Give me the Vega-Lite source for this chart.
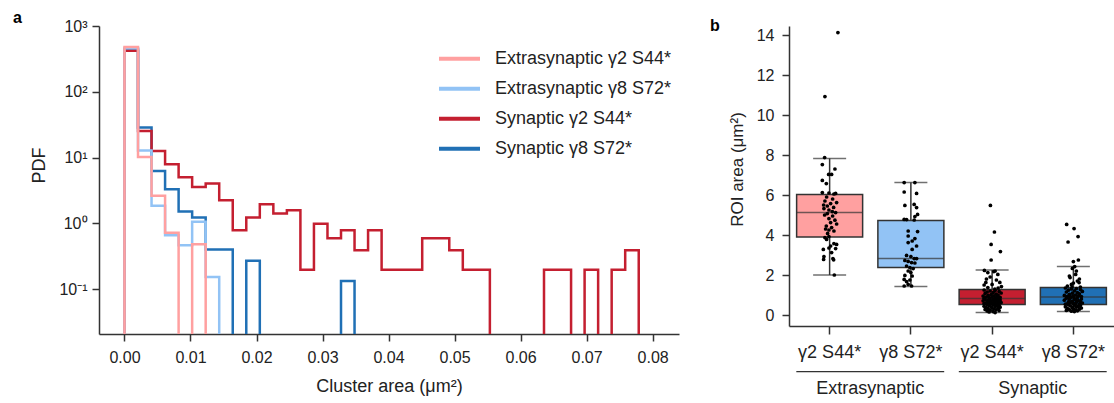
{
  "$schema": "https://vega.github.io/schema/vega-lite/v6.json",
  "background": "white",
  "padding": {"left": 13, "top": 10, "right": 0, "bottom": 0},
  "bounds": "flush",
  "spacing": 110,
  "config": {
    "font": "Liberation Sans",
    "view": {"stroke": null},
    "axis": {"domainColor": "#333", "tickColor": "#333", "labelColor": "#222", "titleColor": "#222", "grid": false, "titleFontWeight": "normal", "domainWidth": 1.5, "tickWidth": 1.5, "tickSize": 7, "labelFontSize": 16, "titleFontSize": 18}
  },
  "datasets": {
    "hist": [
      {"s": "Synaptic γ8 S72*", "i": 0, "x": 0, "p": 0.001},
      {"s": "Synaptic γ8 S72*", "i": 1, "x": 0, "p": 447},
      {"s": "Synaptic γ8 S72*", "i": 2, "x": 0.00205, "p": 28.6},
      {"s": "Synaptic γ8 S72*", "i": 3, "x": 0.0041, "p": 6.26},
      {"s": "Synaptic γ8 S72*", "i": 4, "x": 0.00615, "p": 3.3},
      {"s": "Synaptic γ8 S72*", "i": 5, "x": 0.0082, "p": 1.51},
      {"s": "Synaptic γ8 S72*", "i": 6, "x": 0.01025, "p": 1.22},
      {"s": "Synaptic γ8 S72*", "i": 7, "x": 0.0123, "p": 0.4},
      {"s": "Synaptic γ8 S72*", "i": 8, "x": 0.01435, "p": 0.4},
      {"s": "Synaptic γ8 S72*", "i": 9, "x": 0.0164, "p": 0.001},
      {"s": "Synaptic γ8 S72*", "i": 10, "x": 0.01845, "p": 0.27},
      {"s": "Synaptic γ8 S72*", "i": 11, "x": 0.0205, "p": 0.001},
      {"s": "Synaptic γ8 S72*", "i": 12, "x": 0.02255, "p": 0.001},
      {"s": "Synaptic γ8 S72*", "i": 13, "x": 0.0246, "p": 0.001},
      {"s": "Synaptic γ8 S72*", "i": 14, "x": 0.02665, "p": 0.001},
      {"s": "Synaptic γ8 S72*", "i": 15, "x": 0.0287, "p": 0.001},
      {"s": "Synaptic γ8 S72*", "i": 16, "x": 0.03075, "p": 0.001},
      {"s": "Synaptic γ8 S72*", "i": 17, "x": 0.0328, "p": 0.133},
      {"s": "Synaptic γ8 S72*", "i": 18, "x": 0.03485, "p": 0.001},

      {"s": "Synaptic γ2 S44*", "i": 0, "x": 0, "p": 0.001},
      {"s": "Synaptic γ2 S44*", "i": 1, "x": 0, "p": 420},
      {"s": "Synaptic γ2 S44*", "i": 2, "x": 0.00205, "p": 25.4},
      {"s": "Synaptic γ2 S44*", "i": 3, "x": 0.0041, "p": 12.6},
      {"s": "Synaptic γ2 S44*", "i": 4, "x": 0.00615, "p": 7.9},
      {"s": "Synaptic γ2 S44*", "i": 5, "x": 0.0082, "p": 5.0},
      {"s": "Synaptic γ2 S44*", "i": 6, "x": 0.01025, "p": 3.55},
      {"s": "Synaptic γ2 S44*", "i": 7, "x": 0.0123, "p": 4.03},
      {"s": "Synaptic γ2 S44*", "i": 8, "x": 0.01435, "p": 2.24},
      {"s": "Synaptic γ2 S44*", "i": 9, "x": 0.0164, "p": 0.785},
      {"s": "Synaptic γ2 S44*", "i": 10, "x": 0.01845, "p": 1.22},
      {"s": "Synaptic γ2 S44*", "i": 11, "x": 0.0205, "p": 1.95},
      {"s": "Synaptic γ2 S44*", "i": 12, "x": 0.02255, "p": 1.41},
      {"s": "Synaptic γ2 S44*", "i": 13, "x": 0.0246, "p": 1.58},
      {"s": "Synaptic γ2 S44*", "i": 14, "x": 0.02665, "p": 0.196},
      {"s": "Synaptic γ2 S44*", "i": 15, "x": 0.0287, "p": 0.98},
      {"s": "Synaptic γ2 S44*", "i": 16, "x": 0.03075, "p": 0.59},
      {"s": "Synaptic γ2 S44*", "i": 17, "x": 0.0328, "p": 0.785},
      {"s": "Synaptic γ2 S44*", "i": 18, "x": 0.03485, "p": 0.39},
      {"s": "Synaptic γ2 S44*", "i": 19, "x": 0.0369, "p": 0.785},
      {"s": "Synaptic γ2 S44*", "i": 20, "x": 0.03895, "p": 0.196},
      {"s": "Synaptic γ2 S44*", "i": 21, "x": 0.041, "p": 0.196},
      {"s": "Synaptic γ2 S44*", "i": 22, "x": 0.04305, "p": 0.196},
      {"s": "Synaptic γ2 S44*", "i": 23, "x": 0.0451, "p": 0.59},
      {"s": "Synaptic γ2 S44*", "i": 24, "x": 0.04715, "p": 0.59},
      {"s": "Synaptic γ2 S44*", "i": 25, "x": 0.0492, "p": 0.39},
      {"s": "Synaptic γ2 S44*", "i": 26, "x": 0.05125, "p": 0.196},
      {"s": "Synaptic γ2 S44*", "i": 27, "x": 0.0533, "p": 0.196},
      {"s": "Synaptic γ2 S44*", "i": 28, "x": 0.05535, "p": 0.001},
      {"s": "Synaptic γ2 S44*", "i": 29, "x": 0.0574, "p": 0.001},
      {"s": "Synaptic γ2 S44*", "i": 30, "x": 0.05945, "p": 0.001},
      {"s": "Synaptic γ2 S44*", "i": 31, "x": 0.0615, "p": 0.001},
      {"s": "Synaptic γ2 S44*", "i": 32, "x": 0.06355, "p": 0.196},
      {"s": "Synaptic γ2 S44*", "i": 33, "x": 0.0656, "p": 0.196},
      {"s": "Synaptic γ2 S44*", "i": 34, "x": 0.06765, "p": 0.001},
      {"s": "Synaptic γ2 S44*", "i": 35, "x": 0.0697, "p": 0.196},
      {"s": "Synaptic γ2 S44*", "i": 36, "x": 0.07175, "p": 0.001},
      {"s": "Synaptic γ2 S44*", "i": 37, "x": 0.0738, "p": 0.196},
      {"s": "Synaptic γ2 S44*", "i": 38, "x": 0.07585, "p": 0.39},
      {"s": "Synaptic γ2 S44*", "i": 39, "x": 0.0779, "p": 0.001},

      {"s": "Extrasynaptic γ8 S72*", "i": 0, "x": 0, "p": 0.001},
      {"s": "Extrasynaptic γ8 S72*", "i": 1, "x": 0, "p": 460},
      {"s": "Extrasynaptic γ8 S72*", "i": 2, "x": 0.00205, "p": 12.8},
      {"s": "Extrasynaptic γ8 S72*", "i": 3, "x": 0.0041, "p": 1.84},
      {"s": "Extrasynaptic γ8 S72*", "i": 4, "x": 0.00615, "p": 0.66},
      {"s": "Extrasynaptic γ8 S72*", "i": 5, "x": 0.0082, "p": 0.465},
      {"s": "Extrasynaptic γ8 S72*", "i": 6, "x": 0.01025, "p": 1.05},
      {"s": "Extrasynaptic γ8 S72*", "i": 7, "x": 0.0123, "p": 0.153},
      {"s": "Extrasynaptic γ8 S72*", "i": 8, "x": 0.01435, "p": 0.001},

      {"s": "Extrasynaptic γ2 S44*", "i": 0, "x": 0, "p": 0.001},
      {"s": "Extrasynaptic γ2 S44*", "i": 1, "x": 0, "p": 480},
      {"s": "Extrasynaptic γ2 S44*", "i": 2, "x": 0.00205, "p": 10.2},
      {"s": "Extrasynaptic γ2 S44*", "i": 3, "x": 0.0041, "p": 2.61},
      {"s": "Extrasynaptic γ2 S44*", "i": 4, "x": 0.00615, "p": 0.72},
      {"s": "Extrasynaptic γ2 S44*", "i": 5, "x": 0.0082, "p": 0.001},
      {"s": "Extrasynaptic γ2 S44*", "i": 6, "x": 0.01025, "p": 0.48},
      {"s": "Extrasynaptic γ2 S44*", "i": 7, "x": 0.0123, "p": 0.001}
    ],
    "box": [
      {"g": "E2", "lo": 2.0, "q1": 3.9, "med": 5.12, "q3": 6.03, "hi": 7.83},
      {"g": "E8", "lo": 1.42, "q1": 2.37, "med": 2.82, "q3": 4.73, "hi": 6.62},
      {"g": "S2", "lo": 0.12, "q1": 0.52, "med": 0.82, "q3": 1.28, "hi": 2.25},
      {"g": "S8", "lo": 0.17, "q1": 0.52, "med": 0.9, "q3": 1.37, "hi": 2.42}
    ],
    "groups": [
      {"grp": "Extrasynaptic", "a": "E2", "b": "E8"},
      {"grp": "Synaptic", "a": "S2", "b": "S8"}
    ],
    "pts": [
      {"g":"E2","j":8.3,"v":14.12},{"g":"E2","j":-4.7,"v":10.92},{"g":"E2","j":-5,"v":7.87},{"g":"E2","j":-7.3,"v":7.52},{"g":"E2","j":5.3,"v":7.3},{"g":"E2","j":-1,"v":7.03},{"g":"E2","j":2,"v":7.03},{"g":"E2","j":-7.3,"v":6.73},{"g":"E2","j":-3.3,"v":6.57},{"g":"E2","j":-7.3,"v":6.12},{"g":"E2","j":-0.7,"v":6.1},{"g":"E2","j":4.3,"v":6.05},{"g":"E2","j":6,"v":6.08},
      {"g":"E2","j":-3,"v":5.9},{"g":"E2","j":3,"v":5.8},{"g":"E2","j":-4.7,"v":5.7},{"g":"E2","j":7,"v":5.62},{"g":"E2","j":1,"v":5.57},{"g":"E2","j":-6,"v":5.5},{"g":"E2","j":-2.3,"v":5.45},{"g":"E2","j":4,"v":5.38},{"g":"E2","j":-5.7,"v":5.32},{"g":"E2","j":-0.7,"v":5.25},{"g":"E2","j":2.7,"v":5.17},{"g":"E2","j":6,"v":5.12},{"g":"E2","j":-2.3,"v":5.07},
      {"g":"E2","j":-5,"v":5.0},{"g":"E2","j":3,"v":4.95},{"g":"E2","j":-0.7,"v":4.82},{"g":"E2","j":5.3,"v":4.74},{"g":"E2","j":1,"v":4.62},{"g":"E2","j":7,"v":4.55},{"g":"E2","j":-3.3,"v":4.45},{"g":"E2","j":2,"v":4.37},{"g":"E2","j":-4,"v":4.3},{"g":"E2","j":-0.7,"v":4.25},{"g":"E2","j":4.3,"v":4.2},{"g":"E2","j":-2,"v":4.08},{"g":"E2","j":-0.7,"v":3.92},
      {"g":"E2","j":-4.7,"v":3.87},{"g":"E2","j":-3,"v":3.78},{"g":"E2","j":4.3,"v":3.57},{"g":"E2","j":7,"v":3.53},{"g":"E2","j":1,"v":3.45},{"g":"E2","j":-0.7,"v":3.35},{"g":"E2","j":6,"v":3.32},{"g":"E2","j":-6.3,"v":3.28},{"g":"E2","j":2,"v":3.12},{"g":"E2","j":-5.7,"v":2.92},{"g":"E2","j":3.3,"v":2.82},{"g":"E2","j":-6,"v":2.78},{"g":"E2","j":4,"v":2.76},{"g":"E2","j":4.7,"v":2.0},

      {"g":"E8","j":-6.7,"v":6.62},{"g":"E8","j":4,"v":6.62},{"g":"E8","j":-6.7,"v":6.15},{"g":"E8","j":5.7,"v":6.08},{"g":"E8","j":-6,"v":5.48},{"g":"E8","j":3.3,"v":5.53},{"g":"E8","j":5.7,"v":5.37},{"g":"E8","j":6.7,"v":5.03},{"g":"E8","j":4,"v":4.92},{"g":"E8","j":-6.7,"v":4.78},{"g":"E8","j":-4.3,"v":4.77},{"g":"E8","j":3.3,"v":4.75},
      {"g":"E8","j":-2.7,"v":4.2},{"g":"E8","j":6.7,"v":4.17},{"g":"E8","j":-2.7,"v":3.95},{"g":"E8","j":4,"v":3.82},{"g":"E8","j":1.3,"v":3.7},{"g":"E8","j":-2.7,"v":3.62},{"g":"E8","j":5.7,"v":3.45},{"g":"E8","j":1.3,"v":3.28},{"g":"E8","j":-4.3,"v":2.98},{"g":"E8","j":0,"v":2.92},{"g":"E8","j":3.3,"v":2.82},{"g":"E8","j":5.7,"v":2.82},
      {"g":"E8","j":-6,"v":2.73},{"g":"E8","j":-2.7,"v":2.68},{"g":"E8","j":0.7,"v":2.62},{"g":"E8","j":4,"v":2.6},{"g":"E8","j":-4.3,"v":2.45},{"g":"E8","j":-1,"v":2.37},{"g":"E8","j":2.3,"v":2.32},{"g":"E8","j":-2.7,"v":2.2},{"g":"E8","j":0,"v":2.12},{"g":"E8","j":-6,"v":1.98},{"g":"E8","j":1.3,"v":1.95},{"g":"E8","j":-6.7,"v":1.78},{"g":"E8","j":-1,"v":1.75},{"g":"E8","j":-4.3,"v":1.67},{"g":"E8","j":-2.7,"v":1.53},{"g":"E8","j":-6.7,"v":1.45},{"g":"E8","j":0.7,"v":1.45},

      {"g":"S2","j":-1.7,"v":5.48},{"g":"S2","j":2.3,"v":4.15},{"g":"S2","j":-1,"v":3.53},{"g":"S2","j":8.3,"v":3.17},{"g":"S2","j":-1,"v":2.75},
      {"g":"S2","j":-7.7,"v":2.23},{"g":"S2","j":-4.3,"v":2.12},{"g":"S2","j":1.7,"v":2.17},{"g":"S2","j":5.7,"v":2.03},{"g":"S2","j":-2,"v":1.9},{"g":"S2","j":-5.7,"v":1.8},{"g":"S2","j":4.3,"v":1.75},{"g":"S2","j":7.7,"v":1.63},{"g":"S2","j":-6.3,"v":1.63},{"g":"S2","j":0,"v":1.53},{"g":"S2","j":-8,"v":1.5},{"g":"S2","j":9.3,"v":1.42},{"g":"S2","j":-4.3,"v":1.37},{"g":"S2","j":6,"v":1.35},{"g":"S2","j":2.7,"v":1.3},{"g":"S2","j":3,"v":2.2},
      {"g":"S2","j":-8,"v":1.25},{"g":"S2","j":3,"v":1.22},{"g":"S2","j":-2,"v":1.2},{"g":"S2","j":7,"v":1.18},{"g":"S2","j":-5,"v":1.15},{"g":"S2","j":1,"v":1.12},{"g":"S2","j":9,"v":1.1},{"g":"S2","j":-7,"v":1.08},{"g":"S2","j":4,"v":1.05},{"g":"S2","j":-1,"v":1.02},{"g":"S2","j":6,"v":1.0},{"g":"S2","j":-4,"v":0.98},{"g":"S2","j":2,"v":0.96},{"g":"S2","j":-9,"v":0.95},{"g":"S2","j":5,"v":0.93},{"g":"S2","j":0,"v":0.91},{"g":"S2","j":-6,"v":0.9},{"g":"S2","j":8,"v":0.88},{"g":"S2","j":-3,"v":0.87},{"g":"S2","j":3,"v":0.85},{"g":"S2","j":-8,"v":0.84},{"g":"S2","j":6,"v":0.83},
      {"g":"S2","j":-2,"v":0.81},{"g":"S2","j":4,"v":0.8},{"g":"S2","j":-7,"v":0.78},{"g":"S2","j":1,"v":0.77},{"g":"S2","j":8,"v":0.75},{"g":"S2","j":-4,"v":0.74},{"g":"S2","j":2,"v":0.72},{"g":"S2","j":-9,"v":0.71},{"g":"S2","j":5,"v":0.7},{"g":"S2","j":-1,"v":0.68},{"g":"S2","j":7,"v":0.67},{"g":"S2","j":-5,"v":0.66},{"g":"S2","j":3,"v":0.64},{"g":"S2","j":-3,"v":0.63},{"g":"S2","j":9,"v":0.62},{"g":"S2","j":0,"v":0.6},{"g":"S2","j":-6,"v":0.59},{"g":"S2","j":6,"v":0.58},{"g":"S2","j":-8,"v":0.57},{"g":"S2","j":2,"v":0.55},{"g":"S2","j":-2,"v":0.54},{"g":"S2","j":4,"v":0.53},
      {"g":"S2","j":-5,"v":0.51},{"g":"S2","j":1,"v":0.5},{"g":"S2","j":7,"v":0.48},{"g":"S2","j":-3,"v":0.47},{"g":"S2","j":5,"v":0.45},{"g":"S2","j":-8,"v":0.44},{"g":"S2","j":3,"v":0.42},{"g":"S2","j":-1,"v":0.4},{"g":"S2","j":8,"v":0.39},{"g":"S2","j":-6,"v":0.37},{"g":"S2","j":0,"v":0.35},{"g":"S2","j":6,"v":0.34},{"g":"S2","j":-4,"v":0.32},{"g":"S2","j":2,"v":0.3},{"g":"S2","j":-7,"v":0.28},{"g":"S2","j":4,"v":0.26},{"g":"S2","j":-2,"v":0.24},{"g":"S2","j":7,"v":0.22},{"g":"S2","j":-5,"v":0.2},{"g":"S2","j":1,"v":0.17},{"g":"S2","j":-3,"v":0.15},{"g":"S2","j":3,"v":0.12},

      {"g":"S8","j":-6.7,"v":4.53},{"g":"S8","j":0.7,"v":4.32},{"g":"S8","j":4.7,"v":3.92},{"g":"S8","j":-5.3,"v":3.65},{"g":"S8","j":5,"v":2.75},{"g":"S8","j":0,"v":2.67},
      {"g":"S8","j":1.3,"v":2.42},{"g":"S8","j":-1,"v":2.33},{"g":"S8","j":2.3,"v":2.03},{"g":"S8","j":-3.3,"v":1.87},{"g":"S8","j":4,"v":1.7},{"g":"S8","j":5.7,"v":1.62},{"g":"S8","j":-2,"v":1.53},{"g":"S8","j":-6,"v":1.45},{"g":"S8","j":3,"v":2.2},{"g":"S8","j":-4,"v":1.95},{"g":"S8","j":7,"v":1.4},{"g":"S8","j":0,"v":1.6},{"g":"S8","j":-1.5,"v":1.38},{"g":"S8","j":6,"v":1.8},
      {"g":"S8","j":-8,"v":1.35},{"g":"S8","j":3,"v":1.32},{"g":"S8","j":-2,"v":1.3},{"g":"S8","j":7,"v":1.27},{"g":"S8","j":-5,"v":1.24},{"g":"S8","j":1,"v":1.21},{"g":"S8","j":9,"v":1.18},{"g":"S8","j":-7,"v":1.15},{"g":"S8","j":4,"v":1.12},{"g":"S8","j":-1,"v":1.09},{"g":"S8","j":6,"v":1.06},{"g":"S8","j":-4,"v":1.03},{"g":"S8","j":2,"v":1.0},{"g":"S8","j":-9,"v":0.98},{"g":"S8","j":5,"v":0.96},{"g":"S8","j":0,"v":0.94},{"g":"S8","j":-6,"v":0.93},{"g":"S8","j":8,"v":0.92},{"g":"S8","j":-3,"v":0.91},
      {"g":"S8","j":-2,"v":0.89},{"g":"S8","j":4,"v":0.87},{"g":"S8","j":-7,"v":0.84},{"g":"S8","j":1,"v":0.82},{"g":"S8","j":8,"v":0.8},{"g":"S8","j":-4,"v":0.78},{"g":"S8","j":2,"v":0.76},{"g":"S8","j":-9,"v":0.74},{"g":"S8","j":5,"v":0.72},{"g":"S8","j":-1,"v":0.7},{"g":"S8","j":7,"v":0.68},{"g":"S8","j":-5,"v":0.66},{"g":"S8","j":3,"v":0.64},{"g":"S8","j":-3,"v":0.62},{"g":"S8","j":9,"v":0.6},{"g":"S8","j":0,"v":0.58},{"g":"S8","j":-6,"v":0.56},{"g":"S8","j":6,"v":0.55},{"g":"S8","j":-8,"v":0.54},{"g":"S8","j":2,"v":0.53},
      {"g":"S8","j":-5,"v":0.51},{"g":"S8","j":1,"v":0.49},{"g":"S8","j":7,"v":0.47},{"g":"S8","j":-3,"v":0.45},{"g":"S8","j":5,"v":0.43},{"g":"S8","j":-8,"v":0.41},{"g":"S8","j":3,"v":0.39},{"g":"S8","j":-1,"v":0.37},{"g":"S8","j":8,"v":0.35},{"g":"S8","j":-6,"v":0.33},{"g":"S8","j":0,"v":0.31},{"g":"S8","j":6,"v":0.29},{"g":"S8","j":-4,"v":0.27},{"g":"S8","j":2,"v":0.25},{"g":"S8","j":-7,"v":0.23},{"g":"S8","j":4,"v":0.21},{"g":"S8","j":-2,"v":0.19},{"g":"S8","j":1,"v":0.17}
    ]
  },
  "hconcat": [
    {
      "width": 580,
      "height": 308,
      "title": {"text": "a", "anchor": "start", "frame": "group", "dx": -86, "dy": 8, "fontSize": 16, "fontWeight": "bold", "color": "#000", "offset": 0},
      "data": {"name": "hist"},
      "mark": {"type": "line", "interpolate": "step-after", "clip": true, "strokeWidth": 2.5, "strokeJoin": "miter", "strokeCap": "butt"},
      "encoding": {
        "x": {"field": "x", "type": "quantitative", "scale": {"domain": [-0.00386, 0.084], "nice": false, "zero": false},
              "axis": {"values": [0, 0.01, 0.02, 0.03, 0.04, 0.05, 0.06, 0.07, 0.08], "format": ".2f", "title": "Cluster area (μm²)", "labelPadding": 8, "titlePadding": 12}},
        "y": {"field": "p", "type": "quantitative", "scale": {"type": "log", "domain": [0.0207, 1000], "nice": false},
              "axis": {"values": [0.1, 1, 10, 100, 1000], "labelExpr": "datum.value >= 999 ? '10³' : datum.value >= 99 ? '10²' : datum.value >= 9 ? '10¹' : datum.value >= 0.9 ? '10⁰' : '10⁻¹'", "title": "PDF", "titleX": -60, "titleY": 139, "titleBaseline": "middle", "labelPadding": 5}},
        "color": {"field": "s", "type": "nominal",
                  "scale": {"domain": ["Extrasynaptic γ2 S44*", "Extrasynaptic γ8 S72*", "Synaptic γ2 S44*", "Synaptic γ8 S72*"], "range": ["#ffa0a0", "#92c3f5", "#c41f30", "#2070b5"]},
                  "legend": {"orient": "none", "legendX": 338, "legendY": 19, "title": null, "symbolType": "stroke", "symbolSize": 1681, "symbolStrokeWidth": 4, "labelFontSize": 18, "labelOffset": 13, "labelColor": "#222", "labelLimit": 0, "padding": 0, "rowPadding": 2, "clipHeight": 27.3}},
        "order": {"field": "i", "type": "quantitative"}
      }
    },
    {
      "width": 325,
      "height": 300,
      "title": {"text": "b", "anchor": "start", "frame": "group", "dx": -79, "dy": 8, "fontSize": 16, "fontWeight": "bold", "color": "#000", "offset": 0},
      "layer": [
        {
          "data": {"name": "box"},
          "mark": {"type": "rule", "color": "#333", "strokeWidth": 1.5},
          "encoding": {
            "x": {"field": "g", "type": "nominal", "scale": {"domain": ["E2", "E8", "S2", "S8"], "paddingInner": 0, "paddingOuter": 0},
                  "axis": {"labelExpr": "datum.value[1] == '2' ? 'γ2 S44*' : 'γ8 S72*'", "labelAngle": 0, "title": null, "labelFontSize": 18, "labelPadding": 9, "tickSize": 8}},
            "y": {"field": "lo", "type": "quantitative", "scale": {"domain": [-0.55, 14.45], "nice": false, "zero": false},
                  "axis": {"values": [0, 2, 4, 6, 8, 10, 12, 14], "title": "ROI area (μm²)", "titleFontSize": 17, "titleX": -52, "titleY": 143, "titleBaseline": "middle", "labelFontSize": 16, "labelPadding": 8}},
            "y2": {"field": "hi"}
          }
        },
        {
          "data": {"name": "box"},
          "mark": {"type": "tick", "color": "#333", "thickness": 1.5, "size": 33},
          "encoding": {"x": {"field": "g", "type": "nominal"}, "y": {"field": "lo", "type": "quantitative"}}
        },
        {
          "data": {"name": "box"},
          "mark": {"type": "tick", "color": "#333", "thickness": 1.5, "size": 33},
          "encoding": {"x": {"field": "g", "type": "nominal"}, "y": {"field": "hi", "type": "quantitative"}}
        },
        {
          "data": {"name": "box"},
          "mark": {"type": "bar", "stroke": "#333", "strokeWidth": 1.5, "width": 66},
          "encoding": {
            "x": {"field": "g", "type": "nominal"},
            "y": {"field": "q1", "type": "quantitative"},
            "y2": {"field": "q3"},
            "fill": {"field": "g", "type": "nominal", "scale": {"domain": ["E2", "E8", "S2", "S8"], "range": ["#ffa0a0", "#92c3f5", "#c41f30", "#2070b5"]}, "legend": null}
          }
        },
        {
          "data": {"name": "box"},
          "mark": {"type": "tick", "color": "#333", "thickness": 1.5, "size": 66},
          "encoding": {"x": {"field": "g", "type": "nominal"}, "y": {"field": "med", "type": "quantitative"}}
        },
        {
          "data": {"name": "pts"},
          "mark": {"type": "circle", "color": "#000", "opacity": 1, "size": 14},
          "encoding": {
            "x": {"field": "g", "type": "nominal"},
            "xOffset": {"field": "j", "type": "quantitative", "scale": {"domain": [-40.625, 40.625], "range": [0, 81.25]}},
            "y": {"field": "v", "type": "quantitative"}
          }
        },
        {
          "data": {"name": "groups"},
          "mark": {"type": "rule", "color": "#333", "strokeWidth": 1.2},
          "encoding": {
            "x": {"field": "a", "type": "nominal", "bandPosition": 0.09},
            "x2": {"field": "b", "bandPosition": 0.91},
            "y": {"datum": -2.83}
          }
        },
        {
          "data": {"name": "groups"},
          "mark": {"type": "text", "fontSize": 18, "color": "#222", "baseline": "middle", "align": "center"},
          "encoding": {
            "x": {"field": "b", "type": "nominal", "bandPosition": 0},
            "y": {"datum": -3.68},
            "text": {"field": "grp"}
          }
        }
      ]
    }
  ]
}
